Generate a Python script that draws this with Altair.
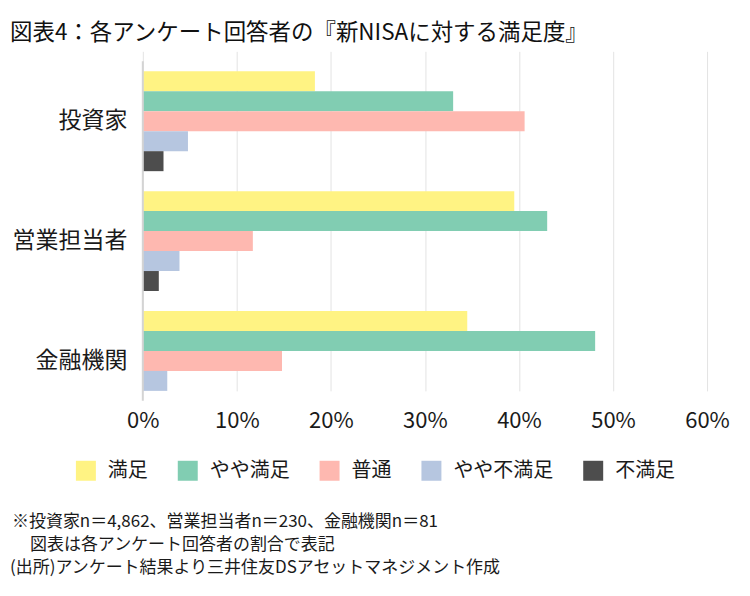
import altair as alt
import pandas as pd

FONT = "Noto Sans CJK JP"

title_text = "図表4：各アンケート回答者の『新NISAに対する満足度』"
groups = ["投資家", "営業担当者", "金融機関"]
answers = ["満足", "やや満足", "普通", "やや不満足", "不満足"]
colors = ["#FFF383", "#81CDB2", "#FEB8B0", "#B6C6E0", "#4D4D4D"]

# percent values per group, in the order of `answers`
investor = [18.3, 33.0, 40.6, 4.8, 2.2]
sales = [39.5, 43.0, 11.7, 3.9, 1.7]
institution = [34.5, 48.1, 14.8, 2.6, 0.0]

x_ticks = [0, 10, 20, 30, 40, 50, 60]

footnotes = [
    "※投資家n＝4,862、営業担当者n＝230、金融機関n＝81",
    "図表は各アンケート回答者の割合で表記",
    "(出所)アンケート結果より三井住友DSアセットマネジメント作成",
]
footnote_indent = [0, 18, -2]

rows = []
for g, vals in zip(groups, [investor, sales, institution]):
    for a, v in zip(answers, vals):
        rows.append({"group": g, "answer": a, "value": v})
df = pd.DataFrame(rows)

bars = alt.Chart(df).mark_bar().encode(
    y=alt.Y("group:N", sort=groups,
            scale=alt.Scale(range=[10, 350], paddingInner=1/6, paddingOuter=0),
            axis=alt.Axis(title=None, labelFontSize=23, labelColor="#1a1a1a",
                          labelPadding=16, ticks=False, domain=False, grid=False,
                          labelFont=FONT)),
    yOffset=alt.YOffset("answer:N", sort=answers,
                        scale=alt.Scale(domain=answers, paddingInner=0, paddingOuter=0)),
    x=alt.X("value:Q", scale=alt.Scale(domain=[0, 60], nice=False),
            axis=alt.Axis(title=None, values=x_ticks, labelExpr="datum.value + '%'",
                          labelFontSize=22, labelColor="#1a1a1a", labelFont=FONT,
                          labelFlush=False, labelOverlap=False,
                          domain=False, ticks=False, labelPadding=10,
                          gridColor="#E3E3E3", gridWidth=1)),
    color=alt.Color("answer:N", sort=answers,
                    scale=alt.Scale(domain=answers, range=colors),
                    legend=alt.Legend(title=None, orient="none", legendX=-67, legendY=400,
                                      direction="horizontal", columns=5,
                                      symbolType="square", symbolSize=400,
                                      symbolStrokeWidth=0, labelFontSize=20,
                                      labelFont=FONT, labelColor="#1a1a1a",
                                      labelOffset=12, columnPadding=30)),
)

axis_line = alt.Chart(pd.DataFrame({"v": [0]})).mark_rule(
    color="#D4D4D4", strokeWidth=2
).encode(x="v:Q", y=alt.value(0), y2=alt.value(340))

title_layer = alt.Chart(pd.DataFrame({"t": [title_text]})).mark_text(
    align="left", baseline="middle", fontSize=22.5, font=FONT, color="#111111"
).encode(x=alt.value(-133), y=alt.value(-28), text="t:N")

foot_layers = []
for i, line in enumerate(footnotes):
    foot_layers.append(
        alt.Chart(pd.DataFrame({"t": [line]})).mark_text(
            align="left", baseline="middle", fontSize=17, font=FONT, color="#1a1a1a"
        ).encode(x=alt.value(-131 + footnote_indent[i]), y=alt.value(461 + i * 23), text="t:N")
    )

chart = alt.layer(bars, axis_line, title_layer, *foot_layers).properties(
    width=565, height=340,
    autosize=alt.AutoSizeParams(type="none"),
    padding={"left": 135, "top": 53, "right": 35, "bottom": 180},
).configure_view(stroke=None)

chart.save("out.html", embed_options={"renderer": "svg", "actions": False})
